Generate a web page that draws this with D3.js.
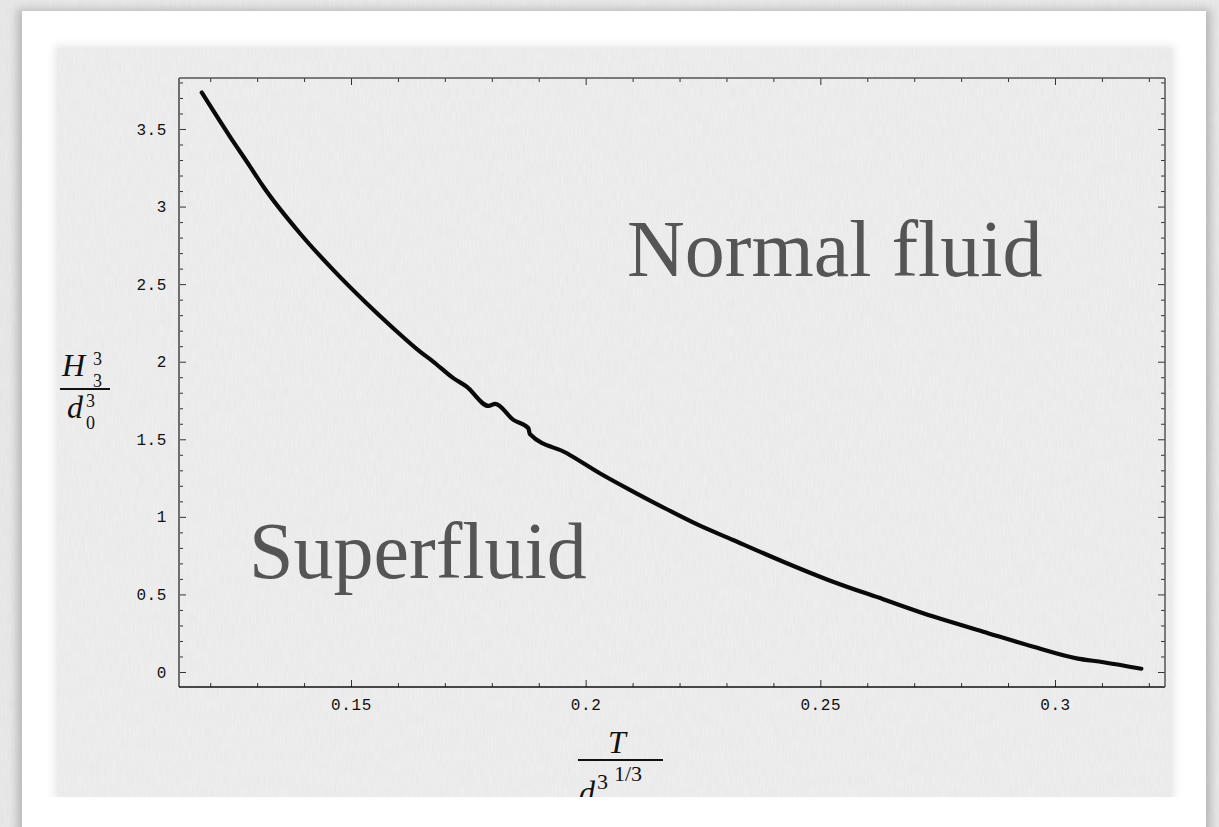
<!DOCTYPE html>
<html>
<head>
<meta charset="utf-8">
<script src="https://cdn.jsdelivr.net/npm/d3@7"></script>
<style>
html,body{margin:0;padding:0;background:#e9e9e9;}
svg{display:block;}
</style>
</head>
<body>
<svg id="chart" width="1219" height="827"></svg>
<script>
// ---- data ----
const tValues = [0.1182,0.1242,0.1285,0.1313,0.1391,0.1462,0.1533,0.1590,0.1647,0.1675,0.1718,0.1746,0.1793,0.1807,0.1846,0.1878,0.1881,0.1960,0.2030,0.2101,0.2173,0.2240,0.2314,0.2421,0.2527,0.2634,0.2741,0.2847,0.2954,0.3046,0.3103,0.3184];
const hValues = [3.735,3.451,3.258,3.129,2.828,2.592,2.377,2.216,2.065,2.001,1.894,1.840,1.715,1.728,1.625,1.571,1.534,1.410,1.281,1.163,1.049,0.948,0.851,0.711,0.582,0.469,0.357,0.260,0.163,0.088,0.063,0.021];
const xMajorTicks = [0.15,0.2,0.25,0.3];
const xTickLabels = ["0.15","0.2","0.25","0.3"];
const xMinorTicks = [0.12,0.13,0.14,0.16,0.17,0.18,0.19,0.21,0.22,0.23,0.24,0.26,0.27,0.28,0.29,0.31,0.32];
const yMajorTicks = [0,0.5,1,1.5,2,2.5,3,3.5];
const yTickLabels = ["0","0.5","1","1.5","2","2.5","3","3.5"];
const yMinorTicks = [0.1,0.2,0.3,0.4,0.6,0.7,0.8,0.9,1.1,1.2,1.3,1.4,1.6,1.7,1.8,1.9,2.1,2.2,2.3,2.4,2.6,2.7,2.8,2.9,3.1,3.2,3.3,3.4,3.6,3.7,3.8];
const xDomain = [0.11335, 0.32344];
const yDomain = [-0.0967, 3.8287];
const regionLabels = ["Normal fluid","Superfluid"];

// ---- layout ----
const svg = d3.select("#chart");
const L = 179, R = 1165, T = 78, B = 687;

const defs = svg.append("defs");
const f = defs.append("filter").attr("id","noise").attr("x",0).attr("y",0).attr("width","100%").attr("height","100%");
f.append("feTurbulence").attr("type","fractalNoise").attr("baseFrequency","0.9 0.08").attr("numOctaves",2).attr("seed",3).attr("result","n");
f.append("feColorMatrix").attr("type","matrix").attr("values","0 0 0 0 0  0 0 0 0 0  0 0 0 0 0  0 0 0 0.035 0");
f.append("feComposite").attr("in2","SourceGraphic").attr("operator","in");
const sh = defs.append("filter").attr("id","shadow").attr("x","-5%").attr("y","-5%").attr("width","110%").attr("height","110%");
sh.append("feGaussianBlur").attr("stdDeviation",4);

// background
svg.append("rect").attr("width",1219).attr("height",827).attr("fill","#ebebeb");
svg.append("rect").attr("width",1219).attr("height",827).attr("fill","#ebebeb").attr("filter","url(#noise)");
// card with shadow
svg.append("rect").attr("x",17).attr("y",9).attr("width",1194).attr("height",840).attr("fill","#9a9a9a").attr("opacity",0.6).attr("filter","url(#shadow)");
svg.append("rect").attr("x",22).attr("y",11).attr("width",1184).attr("height",830).attr("fill","#ffffff");
// inner panel
svg.append("rect").attr("x",55).attr("y",46).attr("width",1119).attr("height",753).attr("fill","#d4d4d4").attr("opacity",0.6).attr("filter","url(#shadow)");
svg.append("rect").attr("x",57).attr("y",48).attr("width",1115).attr("height",749).attr("fill","#f0f0f0");
svg.append("rect").attr("x",57).attr("y",48).attr("width",1115).attr("height",749).attr("fill","#f0f0f0").attr("filter","url(#noise)");
svg.append("rect").attr("x",22).attr("y",797).attr("width",1184).attr("height",30).attr("fill","#ffffff");

const x = d3.scaleLinear().domain(xDomain).range([L,R]);
const y = d3.scaleLinear().domain(yDomain).range([B,T]);

const tickFont = "'Liberation Mono','DejaVu Sans Mono',monospace";
function styleAxis(g){
  g.select(".domain").remove();
  g.selectAll(".tick line").attr("stroke","#333").attr("stroke-width",1);
  g.selectAll(".tick text").attr("fill","#111").style("font-family",tickFont).style("font-size","16px").style("letter-spacing","0.6px");
}
// bottom
svg.append("g").attr("transform",`translate(0,${B})`)
  .call(d3.axisBottom(x).tickValues(xMajorTicks).tickSize(-7).tickPadding(12).tickFormat((d,i)=>xTickLabels[i]))
  .call(styleAxis);
svg.append("g").attr("transform",`translate(0,${B})`)
  .call(d3.axisBottom(x).tickValues(xMinorTicks).tickSize(-4).tickFormat(""))
  .call(styleAxis);
// top
svg.append("g").attr("transform",`translate(0,${T})`)
  .call(d3.axisTop(x).tickValues(xMajorTicks).tickSize(-7).tickFormat(""))
  .call(styleAxis);
svg.append("g").attr("transform",`translate(0,${T})`)
  .call(d3.axisTop(x).tickValues(xMinorTicks).tickSize(-4).tickFormat(""))
  .call(styleAxis);
// left
svg.append("g").attr("transform",`translate(${L},0)`)
  .call(d3.axisLeft(y).tickValues(yMajorTicks).tickSize(-7).tickPadding(12).tickFormat((d,i)=>yTickLabels[i]))
  .call(styleAxis);
svg.append("g").attr("transform",`translate(${L},0)`)
  .call(d3.axisLeft(y).tickValues(yMinorTicks).tickSize(-4).tickFormat(""))
  .call(styleAxis);
// right
svg.append("g").attr("transform",`translate(${R},0)`)
  .call(d3.axisRight(y).tickValues(yMajorTicks).tickSize(-7).tickFormat(""))
  .call(styleAxis);
svg.append("g").attr("transform",`translate(${R},0)`)
  .call(d3.axisRight(y).tickValues(yMinorTicks).tickSize(-4).tickFormat(""))
  .call(styleAxis);

// frame
svg.append("line").attr("x1",L).attr("x2",L).attr("y1",T).attr("y2",B).attr("stroke","#6e6e6e").attr("stroke-width",2);
svg.append("line").attr("x1",L).attr("x2",R).attr("y1",B).attr("y2",B).attr("stroke","#111").attr("stroke-width",1.6);
svg.append("line").attr("x1",L).attr("x2",R).attr("y1",T).attr("y2",T).attr("stroke","#555").attr("stroke-width",1.5);
svg.append("line").attr("x1",R).attr("x2",R).attr("y1",T).attr("y2",B).attr("stroke","#555").attr("stroke-width",1.5);

// curve
const pts = tValues.map((t,i)=>[t,hValues[i]]);
svg.append("path").datum(pts)
  .attr("d", d3.line().x(d=>x(d[0])).y(d=>y(d[1])).curve(d3.curveMonotoneX))
  .attr("fill","none").attr("stroke","#0a0a0a").attr("stroke-width",4.2)
  .attr("stroke-linecap","round").attr("stroke-linejoin","round");

// region labels
const serif = "'Liberation Serif','DejaVu Serif',serif";
svg.append("text").attr("x",627).attr("y",276).text(regionLabels[0])
  .attr("fill","#555").style("font-family",serif).style("font-size","80px");
svg.append("text").attr("x",249).attr("y",578).text(regionLabels[1])
  .attr("fill","#555").style("font-family",serif).style("font-size","80px");

// y-axis label: H_3^3 / d_0^3
const yl = svg.append("g").style("font-family",serif).attr("fill","#111");
yl.append("text").attr("x",62).attr("y",376).style("font-size","32px").style("font-style","italic").text("H");
yl.append("text").attr("x",93).attr("y",365).style("font-size","18px").text("3");
yl.append("text").attr("x",93).attr("y",387).style("font-size","18px").text("3");
yl.append("line").attr("x1",60).attr("x2",110).attr("y1",389).attr("y2",389).attr("stroke","#111").attr("stroke-width",2);
yl.append("text").attr("x",67).attr("y",418).style("font-size","32px").style("font-style","italic").text("d");
yl.append("text").attr("x",86).attr("y",407).style("font-size","18px").text("3");
yl.append("text").attr("x",86).attr("y",429).style("font-size","18px").text("0");

// x-axis label: T / d^3^(1/3)  (clipped by panel bottom)
defs.append("clipPath").attr("id","panelClip").append("rect").attr("x",57).attr("y",48).attr("width",1115).attr("height",749);
const xl = svg.append("g").attr("clip-path","url(#panelClip)").style("font-family",serif).attr("fill","#111");
xl.append("text").attr("x",608).attr("y",753).style("font-size","32px").style("font-style","italic").text("T");
xl.append("line").attr("x1",578).attr("x2",663).attr("y1",760).attr("y2",760).attr("stroke","#111").attr("stroke-width",2);
xl.append("text").attr("x",579).attr("y",803).style("font-size","32px").style("font-style","italic").text("d");
xl.append("text").attr("x",597).attr("y",789).style("font-size","22px").text("3");
xl.append("text").attr("x",614).attr("y",781).style("font-size","22px").text("1/3");
</script>
</body>
</html>
